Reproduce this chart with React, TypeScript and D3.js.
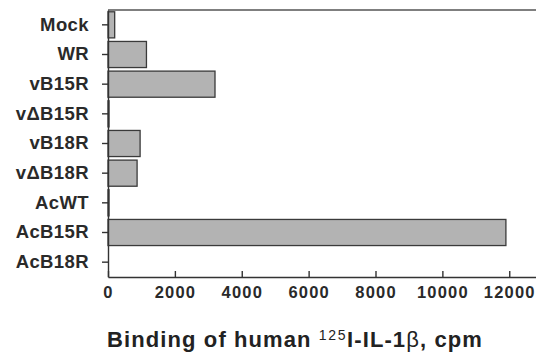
import React, { useEffect, useRef } from 'react';
import * as d3 from 'd3';

const categories = ['Mock', 'WR', 'vB15R', 'v\u0394B15R', 'vB18R', 'v\u0394B18R', 'AcWT', 'AcB15R', 'AcB18R'];
const binding = [200, 1150, 3200, 30, 960, 870, 30, 11900, 0];
const xTicks = [0, 2000, 4000, 6000, 8000, 10000, 12000];

const W = 536;
const H = 354;
const FONT = '"Liberation Sans", Arial, Helvetica, sans-serif';

function BindingChart() {
    const ref = useRef<SVGSVGElement>(null);

    useEffect(() => {
        const svg = d3.select(ref.current);
        svg.selectAll('*').remove();

        const left = 108, top = 10, bottom = 277;

        const x = d3.scaleLinear().domain([0, 12800]).range([left, W]);
        const y = d3.scaleBand().domain(categories).range([top, bottom]).paddingInner(0.12).paddingOuter(0.06);

        // bars
        svg.append('g')
            .selectAll('rect')
            .data(categories.map((c, i) => ({ c, v: binding[i] })))
            .enter().append('rect')
            .attr('x', x(0))
            .attr('y', d => y(d.c)!)
            .attr('width', d => x(d.v) - x(0))
            .attr('height', y.bandwidth())
            .attr('fill', '#b3b3b3')
            .attr('stroke', '#3a3a3a')
            .attr('stroke-width', 1.3);

        // top frame line
        svg.append('line')
            .attr('x1', left).attr('x2', W)
            .attr('y1', top).attr('y2', top)
            .attr('stroke', '#555').attr('stroke-width', 1.5);

        // y axis
        const yAxis = svg.append('g')
            .attr('transform', `translate(${left},0)`)
            .call(d3.axisLeft(y).tickSize(6).tickPadding(13).tickSizeOuter(0));
        yAxis.select('.domain').attr('stroke', '#333').attr('stroke-width', 1.4);
        yAxis.selectAll('.tick line').attr('stroke', '#333').attr('stroke-width', 1.4);
        yAxis.selectAll('text')
            .attr('font-family', FONT)
            .attr('font-weight', 'bold')
            .attr('font-size', 18.5)
            .attr('letter-spacing', 0.4)
            .attr('fill', '#2a2a2a');

        // x axis, ticks point inward
        const xAxis = svg.append('g')
            .attr('transform', `translate(0,${bottom})`)
            .call(d3.axisBottom(x).tickValues(xTicks).tickFormat(d3.format('d')).tickSize(-6).tickPadding(8).tickSizeOuter(0));
        xAxis.select('.domain').attr('stroke', '#333').attr('stroke-width', 1.4);
        xAxis.selectAll('.tick line').attr('stroke', '#333').attr('stroke-width', 1.4);
        xAxis.selectAll('text')
            .attr('y', 21)
            .attr('dy', 0)
            .attr('font-family', FONT)
            .attr('font-weight', 'bold')
            .attr('font-size', 16.5)
            .attr('letter-spacing', 1.2)
            .attr('fill', '#2a2a2a');

        // axis title
        const title = svg.append('text')
            .attr('x', 295)
            .attr('y', 347)
            .attr('text-anchor', 'middle')
            .attr('font-family', FONT)
            .attr('font-weight', 'bold')
            .attr('font-size', 22)
            .attr('letter-spacing', 1.1)
            .attr('fill', '#222');
        title.append('tspan').text('Binding of human ');
        title.append('tspan').attr('font-size', 14).attr('font-weight', 'normal').attr('dy', -7).attr('letter-spacing', 1.6).text('125');
        title.append('tspan').attr('dy', 7).text('I-IL-1');
        title.append('tspan').attr('font-weight', 'normal').text('\u03B2');
        title.append('tspan').text(', cpm');
    }, []);

    return (
        <svg ref={ref} width={W} height={H}
            style={{ position: 'absolute', left: 0, top: 0, background: '#fff' }} />
    );
}

export default function App() {
    return <BindingChart />;
}
